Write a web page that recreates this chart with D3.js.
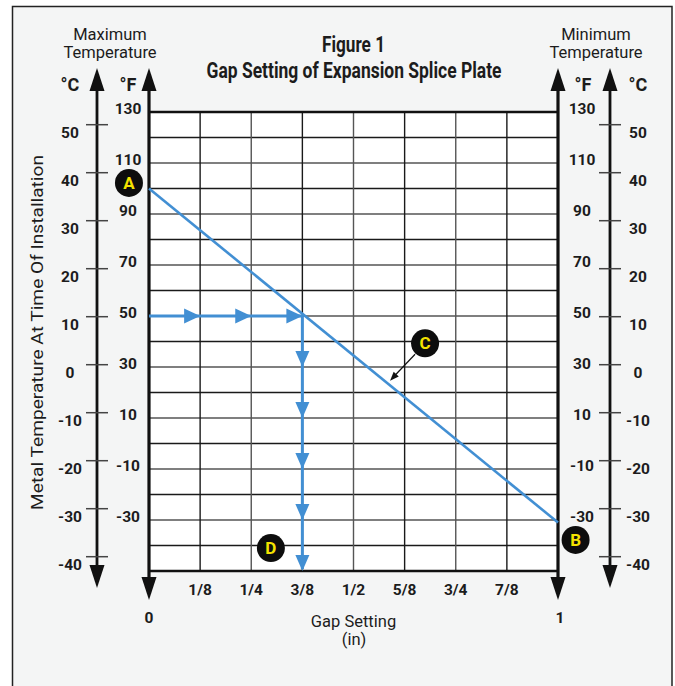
<!DOCTYPE html>
<html lang="en">
<head>
<meta charset="UTF-8">
<title>Figure 1 - Gap Setting of Expansion Splice Plate</title>
<script src="https://cdn.jsdelivr.net/npm/d3@7"></script>
<style>
body { margin: 0; background: #fff; }
svg text { fill: #1c1c1c; font-family: Roboto, 'Liberation Sans', sans-serif; }
.num { font-weight: 700; font-size: 15.5px; }
.head { font-weight: 700; font-size: 18px; }
.cap { font-size: 16.5px; }
</style>
</head>
<body>
<svg id="chart" width="675" height="686"></svg>
<script>
// ---- data ----
const gapTicks = [1/8, 2/8, 3/8, 4/8, 5/8, 6/8, 7/8];
const gapLabels = ["1/8", "1/4", "3/8", "1/2", "5/8", "3/4", "7/8"];
const gapEnds = [0, 1];
const fGrid = [-50, -40, -30, -20, -10, 0, 10, 20, 30, 40, 50, 60, 70, 80, 90, 100, 110, 120, 130];
const fLabels = [130, 110, 90, 70, 50, 30, 10, -10, -30];
const cLabels = [50, 40, 30, 20, 10, 0, -10, -20, -30, -40];
// line A -> B (gap in inches, temperature in F)
const lineGap = [0, 1];
const lineTemp = [100, -31];
// worked example: 50 F -> 3/8 in
const exampleTemp = 50;
const exampleGap = 3/8;
const rightTips = [1/8, 1/4, 3/8];
const downTips = [30, 10, -10, -30, -50];
// callout markers
const calloutIds = ["A", "B", "C", "D"];
const calloutGap = [-0.049, 1.043, 0.675, 0.298];
const calloutTemp = [102.2, -37.8, 39.3, -41];

// ---- layout ----
const svg = d3.select("#chart");
const x = d3.scaleLinear().domain([0, 1]).range([149, 558]);
const yF = d3.scaleLinear().domain([-50, 130]).range([571, 112]);
const yC = d3.scaleLinear().domain([-40, 50]).range([556.7, 124.7]);
const blue = "#428fd3";

// frame
svg.append("rect").attr("x", 12.5).attr("y", 6.5).attr("width", 659.5).attr("height", 700)
  .attr("fill", "#f4f5f5").attr("stroke", "#222").attr("stroke-width", 1.5);

// plot area
svg.append("rect").attr("x", x(0)).attr("y", yF(130))
  .attr("width", x(1) - x(0)).attr("height", yF(-50) - yF(130)).attr("fill", "#fff");

// grid
svg.append("g").selectAll("line").data(fGrid.filter(d => d > -50 && d < 130)).join("line")
  .attr("x1", x(0)).attr("x2", x(1)).attr("y1", d => yF(d)).attr("y2", d => yF(d))
  .attr("stroke", d => fLabels.includes(d) ? "#555" : "#1a1a1a").attr("stroke-width", 1.4);
svg.append("g").selectAll("line").data(gapTicks).join("line")
  .attr("x1", d => x(d)).attr("x2", d => x(d)).attr("y1", yF(130)).attr("y2", yF(-50))
  .attr("stroke", (d, i) => i % 2 ? "#555" : "#1a1a1a").attr("stroke-width", 1.4);
// top & bottom border
[130, -50].forEach(t => svg.append("line").attr("x1", x(0)).attr("x2", x(1))
  .attr("y1", yF(t)).attr("y2", yF(t)).attr("stroke", "#111").attr("stroke-width", 2.5));

// arrowhead helper
function head(tx, ty, dir, len, w) {
  const a = {up: [0, -1], down: [0, 1], right: [1, 0]}[dir];
  const bx = tx - a[0] * len, by = ty - a[1] * len;
  const px = -a[1] * w / 2, py = a[0] * w / 2;
  return `M${tx},${ty}L${bx + px},${by + py}L${bx - px},${by - py}Z`;
}
function axisArrow(ax, top, bottom, topTip, bottomTip, width) {
  svg.append("line").attr("x1", ax).attr("x2", ax).attr("y1", top).attr("y2", bottom)
    .attr("stroke", "#111").attr("stroke-width", width);
  svg.append("path").attr("d", head(ax, topTip, "up", 23, 15)).attr("fill", "#111");
  svg.append("path").attr("d", head(ax, bottomTip, "down", 23, 15)).attr("fill", "#111");
}
// vertical axes
axisArrow(x(0), 85, 582, 68, 600, 3.2);
axisArrow(x(1), 85, 582, 68, 600, 3.2);
axisArrow(97, 85, 570, 68, 588, 2.8);
axisArrow(610, 85, 570, 68, 588, 2.8);

// celsius ticks + labels
[[97, 70], [610, 638]].forEach(([ax, lx]) => {
  svg.append("g").selectAll("line").data(cLabels).join("line")
    .attr("x1", ax - 11).attr("x2", ax + 11).attr("y1", d => yC(d)).attr("y2", d => yC(d))
    .attr("stroke", "#444").attr("stroke-width", 1.5);
  svg.append("g").selectAll("text").data(cLabels).join("text").attr("class", "num")
    .attr("x", lx).attr("y", d => yC(d) + 13).attr("text-anchor", "middle").text(d => d);
});
// fahrenheit labels
[128, 582].forEach(lx => {
  svg.append("g").selectAll("text").data(fLabels).join("text").attr("class", "num")
    .attr("x", lx).attr("y", d => yF(d) + 2).attr("text-anchor", "middle").text(d => d);
});

// headers
[["°C", 70], ["°F", 128], ["°F", 583], ["°C", 638]].forEach(([t, hx]) =>
  svg.append("text").attr("class", "head").attr("x", hx).attr("y", 91)
    .attr("text-anchor", "middle").text(t));
[["Maximum", "Temperature", 110], ["Minimum", "Temperature", 596]].forEach(([a, b, hx]) => {
  svg.append("text").attr("class", "cap").attr("x", hx).attr("y", 40).attr("text-anchor", "middle").text(a);
  svg.append("text").attr("class", "cap").attr("x", hx).attr("y", 58).attr("text-anchor", "middle").text(b);
});

// title
svg.append("text").attr("x", 353.5).attr("y", 52).attr("text-anchor", "middle")
  .style("font-family", "'Liberation Sans Narrow', 'Roboto', sans-serif").style("font-weight", 700)
  .style("font-size", "22px").attr("textLength", 63).attr("lengthAdjust", "spacingAndGlyphs")
  .text("Figure 1");
svg.append("text").attr("x", 354).attr("y", 78).attr("text-anchor", "middle")
  .style("font-family", "'Liberation Sans Narrow', 'Roboto', sans-serif").style("font-weight", 700)
  .style("font-size", "22px").attr("textLength", 295).attr("lengthAdjust", "spacingAndGlyphs")
  .text("Gap Setting of Expansion Splice Plate");

// y title
svg.append("text").attr("transform", "translate(43,332.5) rotate(-90)")
  .attr("text-anchor", "middle").style("font-size", "17px")
  .attr("textLength", 355).attr("lengthAdjust", "spacingAndGlyphs")
  .text("Metal Temperature At Time Of Installation");

// x labels
svg.append("g").selectAll("text").data(gapTicks).join("text").attr("class", "num")
  .attr("x", d => x(d)).attr("y", 595).attr("text-anchor", "middle").text((d, i) => gapLabels[i]);
svg.append("g").selectAll("text").data(gapEnds).join("text").attr("class", "num")
  .attr("x", d => x(d) + (d ? 2 : 0)).attr("y", 623).attr("text-anchor", "middle").text(d => d);
svg.append("text").attr("class", "cap").attr("x", 353.5).attr("y", 627).attr("text-anchor", "middle")
  .text("Gap Setting");
svg.append("text").attr("class", "cap").attr("x", 354).attr("y", 645).attr("text-anchor", "middle")
  .text("(in)");

// A-B line
svg.append("path")
  .attr("d", d3.line()(lineGap.map((g, i) => [x(g), yF(lineTemp[i])])))
  .attr("fill", "none").attr("stroke", blue).attr("stroke-width", 2.6);

// example path
svg.append("path")
  .attr("d", d3.line()([[x(0), yF(exampleTemp)], [x(exampleGap), yF(exampleTemp)], [x(exampleGap), yF(-50) - 2]]))
  .attr("fill", "none").attr("stroke", blue).attr("stroke-width", 3);
svg.append("g").selectAll("path").data(rightTips).join("path")
  .attr("d", d => head(x(d), yF(exampleTemp), "right", 16, 15)).attr("fill", blue);
svg.append("g").selectAll("path").data(downTips).join("path")
  .attr("d", d => head(x(exampleGap), yF(d), "down", 16, 14)).attr("fill", blue);

// C pointer
const cx = x(calloutGap[2]), cy = yF(calloutTemp[2]);
svg.append("line").attr("x1", cx - 10).attr("y1", cy + 11).attr("x2", cx - 30).attr("y2", cy + 32)
  .attr("stroke", "#111").attr("stroke-width", 1.2);
svg.append("path").attr("d", () => {
  const tx = cx - 35, ty = cy + 37.5, ang = Math.atan2(ty - cy, tx - cx);
  const l = 9, w = 3.5;
  const bx = tx - Math.cos(ang) * l, by = ty - Math.sin(ang) * l;
  return `M${tx},${ty}L${bx - Math.sin(ang) * w},${by + Math.cos(ang) * w}L${bx + Math.sin(ang) * w},${by - Math.cos(ang) * w}Z`;
}).attr("fill", "#111");

// callout markers
const marks = svg.append("g").selectAll("g").data(calloutIds).join("g")
  .attr("transform", (d, i) => `translate(${x(calloutGap[i])},${yF(calloutTemp[i])})`);
marks.append("circle").attr("r", 14).attr("fill", "#0d0d0d");
marks.append("text").attr("y", 6).attr("text-anchor", "middle")
  .style("font-weight", 700).style("font-size", "17px").style("fill", "#f4e300").text(d => d);
</script>
</body>
</html>
